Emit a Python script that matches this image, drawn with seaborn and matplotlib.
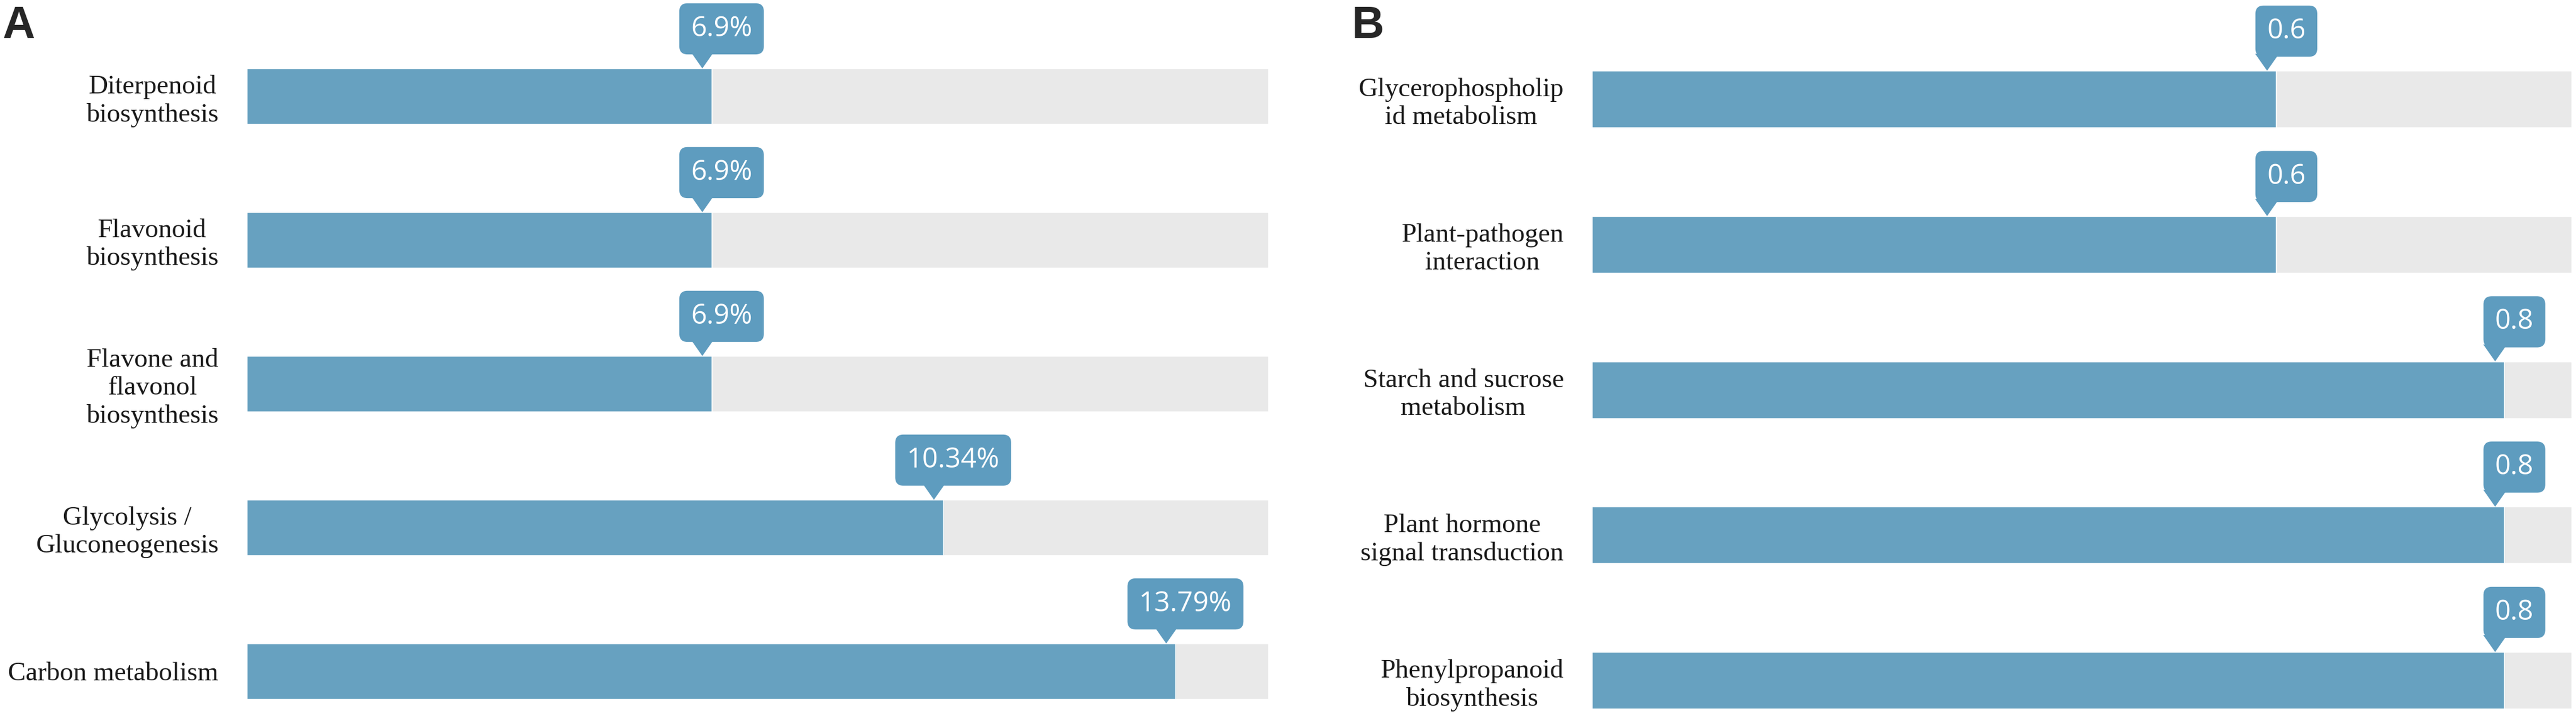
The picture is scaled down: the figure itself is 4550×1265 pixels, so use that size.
import matplotlib
matplotlib.use("Agg")
import matplotlib.pyplot as plt
from matplotlib.patches import Polygon
from matplotlib import transforms
import seaborn as sns
import pandas as pd

# data
pathways_a = ["Diterpenoid\nbiosynthesis", "Flavonoid\nbiosynthesis",
              "Flavone and\nflavonol\nbiosynthesis", "Glycolysis /\nGluconeogenesis",
              "Carbon metabolism"]
values_a = [6.9, 6.9, 6.9, 10.34, 13.79]
labels_a = ["6.9%", "6.9%", "6.9%", "10.34%", "13.79%"]
track_max_a = 15.17

pathways_b = ["Glycerophospholip\nid metabolism", "Plant-pathogen\ninteraction",
              "Starch and sucrose\nmetabolism", "Plant hormone\nsignal transduction",
              "Phenylpropanoid\nbiosynthesis"]
values_b = [0.6, 0.6, 0.8, 0.8, 0.8]
labels_b = ["0.6", "0.6", "0.8", "0.8", "0.8"]
track_max_b = 0.859

BAR = "#67a1c0"
TIP = "#5e9cbf"
TRACK = "#e9e9e9"

sns.set_style("white")
plt.rcParams["font.family"] = ["Liberation Serif", "DejaVu Serif"]

W, H = 4550, 1265
fig = plt.figure(figsize=(W / 100, H / 100), dpi=100)


def panel(rect, names, vals, texts, vmax, ylim, bw):
    ax = fig.add_axes(rect)
    df = pd.DataFrame({"name": names, "value": vals, "track": [vmax] * len(vals)})
    sns.barplot(data=df, x="track", y="name", orient="h", color=TRACK,
                saturation=1, width=bw, ax=ax)
    sns.barplot(data=df, x="value", y="name", orient="h", color=BAR,
                saturation=1, width=bw, ax=ax)
    ax.set_xlim(0, vmax)
    ax.set_ylim(*ylim)
    ax.set_xlabel("")
    ax.set_ylabel("")
    ax.set_xticks([])
    sns.despine(ax=ax, left=True, bottom=True)
    ax.tick_params(axis="y", length=0, pad=36, labelsize=34, labelcolor="#1a1a1a")
    for lab in ax.get_yticklabels():
        lab.set_multialignment("center")

    # callout boxes with a small pointer
    box_tr = transforms.offset_copy(ax.transData, fig=fig, x=18, y=70, units="dots")
    for i, (v, t) in enumerate(zip(vals, texts)):
        top = i - bw / 2
        ax.text(v, top, t, transform=box_tr, ha="center", va="center",
                color="white", fontsize=35, family=["Open Sans", "DejaVu Sans"],
                bbox=dict(boxstyle="round,pad=0.42,rounding_size=0.3",
                          fc=TIP, ec="none"), zorder=5)
        tr = transforms.ScaledTranslation(v, top, ax.transData)
        tri = Polygon([(-16, 0), (-37, 30), (5, 30)], closed=True,
                      transform=tr, fc=TIP, ec="none", zorder=5, clip_on=False)
        ax.add_patch(tri)
    return ax


# panel A
x0a, x1a = 436, 2240
panel([x0a / W, 0, (x1a - x0a) / W, 1], pathways_a, values_a, labels_a,
      track_max_a, (4.311, -0.669), 0.386)

# panel B
x0b, x1b = 2812, 4542
panel([x0b / W, 0, (x1b - x0b) / W, 1], pathways_b, values_b, labels_b,
      track_max_b, (4.245, -0.682), 0.39)

fig.text(4 / W, 1 - 67 / H, "A", fontsize=57, fontweight="bold",
         family=["Liberation Sans", "DejaVu Sans"], va="baseline", ha="left")
fig.text(2388 / W, 1 - 67 / H, "B", fontsize=57, fontweight="bold",
         family=["Liberation Sans", "DejaVu Sans"], va="baseline", ha="left")

plt.savefig("out.png", dpi=100)
